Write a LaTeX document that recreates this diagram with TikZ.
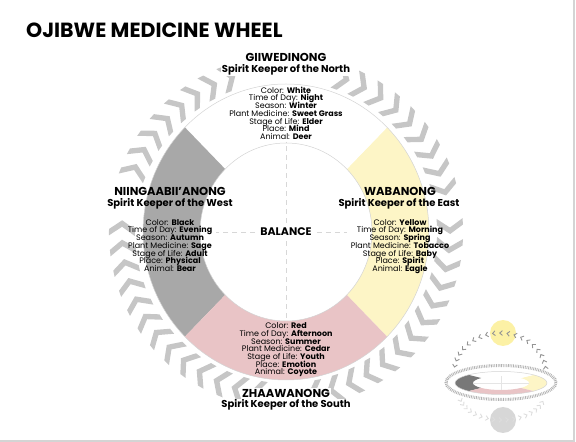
\documentclass[tikz,border=0pt]{standalone}
\usepackage{fontspec}
\setmainfont{Poppins}
\usetikzlibrary{positioning}

\definecolor{westgray}{RGB}{168,168,168}
\definecolor{eastyellow}{RGB}{253,245,198}
\definecolor{southpink}{RGB}{233,196,198}
\definecolor{chevgray}{RGB}{198,198,198}
\definecolor{ringgray}{RGB}{212,212,212}
\definecolor{guidegray}{RGB}{215,215,215}
\definecolor{framegray}{RGB}{212,212,212}
\definecolor{sunyellow}{RGB}{252,241,165}
\definecolor{moongray}{RGB}{215,215,215}
\definecolor{minigray}{RGB}{120,120,120}
\newcommand{\infofont}{\fontsize{8}{7.7}\selectfont\lineskiplimit=-5pt\relax}

\begin{document}
\begin{tikzpicture}[x=1pt,y=1pt,
    dirname/.style={font=\fontsize{11.5}{12}\selectfont\bfseries,inner sep=0,anchor=base},
    keeper/.style={font=\fontsize{10}{11}\selectfont\bfseries,inner sep=0,anchor=base},
    info/.style={font=\infofont,align=center,inner sep=0,anchor=north},
    cover/.style={fill=white,inner sep=1pt},
    chevron/.style={fill=chevgray},
    minichev/.style={draw=chevgray!75!black,line width=0.9pt},
    guide/.style={draw=guidegray,line width=0.7pt,dash pattern=on 5pt off 4pt}]
    \pgfmathsetmacro{\wheelradius}{148}
    \pgfmathsetmacro{\holeradius}{89}
    \pgfmathsetmacro{\chevradius}{164}
    \pgfmathsetmacro{\chevhalf}{13}
    \pgfmathsetmacro{\chevdepth}{9}
    \pgfmathsetmacro{\chevthick}{6.5}
    \pgfmathsetmacro{\chevmid}{(\chevdepth+\chevthick)/2}
    \providecommand{\titlefontsize}{\fontsize{20.5}{24}\selectfont}
    \useasboundingbox (0,0) rectangle (576,442);
    \coordinate (c) at (286,210);
    % frame
    \draw[framegray,line width=1.5pt] (0,1.2) -- (574.2,1.2) -- (574.2,442);
    % chevron ring
    \foreach \i in {0,...,52}{
        \pgfmathsetmacro{\ang}{360/53*\i+2}
        \pgfmathtruncatemacro{\gap}{(\ang>76 && \ang<104) || (\ang>161 && \ang<177) || (\ang>4 && \ang<12) || (\ang>266 && \ang<274)}
        \ifnum\gap=0
        \fill[chevron,shift={(c)},rotate=\ang] (\chevradius+\chevhalf,\chevdepth-\chevmid) -- (\chevradius,-\chevmid) -- (\chevradius-\chevhalf,\chevdepth-\chevmid) -- (\chevradius-\chevhalf,\chevdepth+\chevthick-\chevmid) -- (\chevradius,\chevthick-\chevmid) -- (\chevradius+\chevhalf,\chevdepth+\chevthick-\chevmid) -- cycle;
        \fi
    }
    % wheel
    \begin{scope}[shift={(c)},xscale=0.966]
        \foreach \a/\col in {0/eastyellow,90/white,180/westgray,270/southpink}
            \fill[\col] (\a-45:\wheelradius) arc[start angle=\a-45,end angle=\a+45,radius=\wheelradius] -- (\a+45:\holeradius) arc[start angle=\a+45,end angle=\a-45,radius=\holeradius] -- cycle;
        \draw[ringgray,line width=0.5pt] (0,0) circle[radius=\wheelradius] (0,0) circle[radius=\holeradius];
    \end{scope}

    \node[font=\titlefontsize\bfseries,anchor=west,inner sep=0] (title) at (26,412) {OJIBWE MEDICINE WHEEL};

    \node[dirname,cover] (giiwedinong) at (286,380) {GIIWEDINONG};
    \node[keeper,cover] (northkeeper) at (286,369.5) {Spirit Keeper of the North};
    \node[info] (northinfo) at (286,355.4) {Color: \textbf{White}\\Time of Day: \textbf{Night}\\Season: \textbf{Winter}\\Plant Medicine: \textbf{Sweet Grass}\\Stage of Life: \textbf{Elder}\\Place: \textbf{Mind}\\Animal: \textbf{Deer}};

    \node[dirname] (niingaabiianong) at (170,246) {NIINGAABII’ANONG};
    \node[keeper] (westkeeper) at (170,235.5) {Spirit Keeper of the West};
    \node[info] (westinfo) at (170,222.9) {Color: \textbf{Black}\\Time of Day: \textbf{Evening}\\Season: \textbf{Autumn}\\Plant Medicine: \textbf{Sage}\\Stage of Life: \textbf{Adult}\\Place: \textbf{Physical}\\Animal: \textbf{Bear}};

    \node[dirname] (wabanong) at (400,246) {WABANONG};
    \node[keeper] (eastkeeper) at (399,235.5) {Spirit Keeper of the East};
    \node[info] (eastinfo) at (400,222.9) {Color: \textbf{Yellow}\\Time of Day: \textbf{Morning}\\Season: \textbf{Spring}\\Plant Medicine: \textbf{Tobacco}\\Stage of Life: \textbf{Baby}\\Place: \textbf{Spirit}\\Animal: \textbf{Eagle}};

    \node[info] (southinfo) at (286,119.4) {Color: \textbf{Red}\\Time of Day: \textbf{Afternoon}\\Season: \textbf{Summer}\\Plant Medicine: \textbf{Cedar}\\Stage of Life: \textbf{Youth}\\Place: \textbf{Emotion}\\Animal: \textbf{Coyote}};
    \node[dirname,cover] (zhaawanong) at (286,44.5) {ZHAAWANONG};
    \node[keeper,cover] (southkeeper) at (286,34) {Spirit Keeper of the South};

    \node[font=\fontsize{11}{12}\selectfont\bfseries,inner sep=0] (balance) at (286,210) {BALANCE};
    \draw[guide,shorten <=5pt,shorten >=4pt] (balance.west) -- (balance.west -| westinfo.east);
    \draw[guide,shorten <=5pt,shorten >=4pt] (balance.east) -- (balance.east -| eastinfo.west);
    \draw[guide,shorten <=5pt,shorten >=2pt] (balance.north) -- (balance.north |- northinfo.south);
    \draw[guide,shorten <=5pt,shorten >=2pt] (balance.south) -- (balance.south |- southinfo.north);

    % small tilted wheel
    \begin{scope}[shift={(501,59)}]
        \fill[sunyellow] (2,50) circle[radius=13];
        \fill[moongray] (2,-37) circle[radius=13];
        \foreach \t in {8,17,...,172}{
            \pgfmathsetmacro{\dir}{atan2(40*cos(\t),-46*sin(\t))}
            \draw[minichev,shift={({-1+46*cos(\t)},{10+40*sin(\t)})},rotate=\dir] (-1.6,2.4) -- (1,0) -- (-1.6,-2.4);
        }
        \foreach \t in {196,205,...,344}{
            \pgfmathsetmacro{\dir}{atan2(27*cos(\t),-43*sin(\t))}
            \draw[minichev,draw=chevgray!60,shift={({1+43*cos(\t)},{-10+27*sin(\t)})},rotate=\dir] (-1.6,2.4) -- (1,0) -- (-1.6,-2.4);
        }
        \draw[chevgray!90!black,line width=3pt,dash pattern=on 0.8pt off 0.9pt] (0,0.5) ellipse[x radius=55,y radius=17];
        \begin{scope}[yscale=0.25]
            \foreach \a/\col in {0/eastyellow,90/white,180/minigray,270/southpink}
                \fill[\col] (\a-45:46) arc[start angle=\a-45,end angle=\a+45,radius=46] -- (\a+45:28) arc[start angle=\a+45,end angle=\a-45,radius=28] -- cycle;
            \draw[ringgray,line width=0.5pt] (0,0) circle[radius=46];
            \draw[ringgray!60,line width=0.3pt] (-28,0) -- (28,0) (0,-28) -- (0,28);
        \end{scope}
    \end{scope}
\end{tikzpicture}
\end{document}
